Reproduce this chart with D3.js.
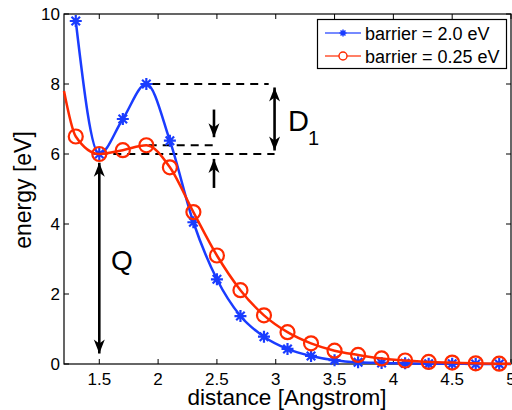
<!DOCTYPE html>
<html>
<head>
<meta charset="utf-8">
<script src="https://cdn.jsdelivr.net/npm/d3@7"></script>
<style>
  html, body { margin: 0; padding: 0; background: #fff; }
  svg { display: block; font-family: "Liberation Sans", Arial, Helvetica, sans-serif; }
</style>
</head>
<body>
<svg id="chart" width="512" height="410"></svg>
<script>
// ---- data ----
const distances = [1.3, 1.5, 1.7, 1.9, 2.1, 2.3, 2.5, 2.7, 2.9, 3.1, 3.3, 3.5, 3.7, 3.9, 4.1, 4.3, 4.5, 4.7, 4.9];
const barrierHigh = [9.8, 6.0, 7.0, 8.0, 6.38, 4.05, 2.42, 1.37, 0.78, 0.43, 0.23, 0.11, 0.05, 0.03, 0.02, 0.01, 0.01, 0.0, 0.0];
const barrierLow  = [6.5, 6.0, 6.11, 6.25, 5.62, 4.34, 3.1, 2.11, 1.39, 0.91, 0.59, 0.38, 0.26, 0.16, 0.1, 0.06, 0.04, 0.02, 0.01];
// curve-only points (no marker) at the plot edges
const lowLineStart = [1.2, 7.8];
const highLineEnd = [5.0, 0.0];
const lowLineEnd = [5.0, 0.01];
const seriesNames = ["barrier = 2.0 eV", "barrier = 0.25 eV"];
const xTicks = [1.5, 2, 2.5, 3, 3.5, 4, 4.5, 5];
const yTicks = [0, 2, 4, 6, 8, 10];
const xLabel = "distance [Angstrom]";
const yLabel = "energy [eV]";
// annotation energies
const eMin = 6.0, eBarrierHigh = 8.0, eBarrierLow = 6.25;

// ---- layout ----
const svg = d3.select("#chart");
const x = d3.scaleLinear().domain([1.2, 5]).range([64, 511]);
const y = d3.scaleLinear().domain([0, 10]).range([364, 14]);
const BLUE = "#1a3cff", RED = "#ff2a00";

// axes box
const tickLen = 5;
const axes = svg.append("g");
xTicks.forEach(t => {
  axes.append("line").attr("x1", x(t)).attr("x2", x(t)).attr("y1", y(0)).attr("y2", y(0) - tickLen).attr("stroke", "#000");
  axes.append("line").attr("x1", x(t)).attr("x2", x(t)).attr("y1", y(10)).attr("y2", y(10) + tickLen).attr("stroke", "#000");
  axes.append("text").attr("x", x(t)).attr("y", 385).attr("text-anchor", "middle")
    .attr("font-size", 17).text(d3.format("")(t));
});
yTicks.forEach(t => {
  axes.append("line").attr("x1", x(1.2)).attr("x2", x(1.2) + tickLen).attr("y1", y(t)).attr("y2", y(t)).attr("stroke", "#000");
  axes.append("line").attr("x1", x(5)).attr("x2", x(5) - tickLen).attr("y1", y(t)).attr("y2", y(t)).attr("stroke", "#000");
  axes.append("text").attr("x", 60).attr("y", y(t)).attr("dy", "0.36em").attr("text-anchor", "end")
    .attr("font-size", 17).text(t);
});
axes.append("rect").attr("x", x(1.2)).attr("y", y(10)).attr("width", x(5) - x(1.2)).attr("height", y(0) - y(10))
  .attr("fill", "none").attr("stroke", "#000").attr("stroke-width", 1.2);

axes.append("text").attr("x", 287).attr("y", 405).attr("text-anchor", "middle").attr("font-size", 22.5).text(xLabel);
axes.append("text").attr("transform", "translate(31,190) rotate(-90)").attr("text-anchor", "middle").attr("font-size", 23).text(yLabel);

// ---- annotations ----
const ann = svg.append("g");
function dashed(x1, x2, e) {
  ann.append("line").attr("x1", x(x1)).attr("x2", x(x2)).attr("y1", y(e)).attr("y2", y(e))
    .attr("stroke", "#000").attr("stroke-width", 2).attr("stroke-dasharray", "8,6");
}
dashed(1.95, 2.94, eBarrierHigh);
dashed(1.92, 2.47, eBarrierLow);
dashed(1.5, 2.99, eMin);

function head(px, py, dir) { // dir: -1 up, +1 down
  const L = 14, W = 5.5;
  ann.append("path").attr("d", `M${px},${py} L${px - W},${py - dir * L} L${px},${py - dir * (L - 4)} L${px + W},${py - dir * L} Z`).attr("fill", "#000");
}
function arrow(xd, e1, e2, h1, h2) {
  const px = x(xd);
  ann.append("line").attr("x1", px).attr("x2", px).attr("y1", y(e1)).attr("y2", y(e2)).attr("stroke", "#000").attr("stroke-width", 2.6);
  if (h1) head(px, y(e1), y(e1) < y(e2) ? -1 : 1);
  if (h2) head(px, y(e2), y(e2) < y(e1) ? -1 : 1);
}
arrow(1.5, 5.75, 0.3, true, true);     // Q
arrow(2.99, 7.9, 6.1, true, true);      // D1
arrow(2.475, 7.27, 6.48, false, true); // down small
arrow(2.475, 5.03, 5.86, false, true); // up small

ann.append("text").attr("x", 111).attr("y", 270).attr("font-size", 28).text("Q");
ann.append("text").attr("x", 288).attr("y", 131).attr("font-size", 29).text("D");
ann.append("text").attr("x", 308).attr("y", 145).attr("font-size", 20).text("1");

// ---- series ----
const line = d3.line().x(d => x(d[0])).y(d => y(d[1])).curve(d3.curveMonotoneX);
const highPts = distances.map((d, i) => [d, barrierHigh[i]]);
const lowPts = distances.map((d, i) => [d, barrierLow[i]]);

function star(g, cx, cy, r, color, w) {
  const a = r * Math.SQRT1_2;
  g.append("path").attr("d",
    `M${cx - r},${cy}L${cx + r},${cy}M${cx},${cy - r}L${cx},${cy + r}M${cx - a},${cy - a}L${cx + a},${cy + a}M${cx - a},${cy + a}L${cx + a},${cy - a}`)
    .attr("stroke", color).attr("stroke-width", w).attr("fill", "none");
}

const gHigh = svg.append("g");
gHigh.append("path").datum(highPts.concat([highLineEnd])).attr("d", line)
  .attr("fill", "none").attr("stroke", BLUE).attr("stroke-width", 2.5);
highPts.forEach(p => star(gHigh, x(p[0]), y(p[1]), 6, BLUE, 2.2));

const gLow = svg.append("g");
gLow.append("path").datum([lowLineStart].concat(lowPts, [lowLineEnd])).attr("d", line)
  .attr("fill", "none").attr("stroke", RED).attr("stroke-width", 2.5);
gLow.selectAll("circle").data(lowPts).join("circle")
  .attr("cx", d => x(d[0])).attr("cy", d => y(d[1])).attr("r", 7)
  .attr("fill", "none").attr("stroke", RED).attr("stroke-width", 2.2);

// ---- legend ----
const lg = svg.append("g");
lg.append("rect").attr("x", 317.5).attr("y", 19.5).attr("width", 189).attr("height", 49)
  .attr("fill", "#fff").attr("stroke", "#000").attr("stroke-width", 1.2);
[[BLUE, 33], [RED, 56]].forEach(([c, ly], i) => {
  lg.append("line").attr("x1", 325).attr("x2", 361).attr("y1", ly).attr("y2", ly)
    .attr("stroke", c).attr("stroke-width", 2).attr("stroke-opacity", 0.6);
  if (i === 0) star(lg, 343, ly, 3.5, c, 1.5);
  else lg.append("circle").attr("cx", 343).attr("cy", ly).attr("r", 4).attr("fill", "#fff").attr("stroke", c).attr("stroke-width", 1.4);
  lg.append("text").attr("x", 365).attr("y", ly + 7).attr("font-size", 18).text(seriesNames[i]);
});
</script>
</body>
</html>
